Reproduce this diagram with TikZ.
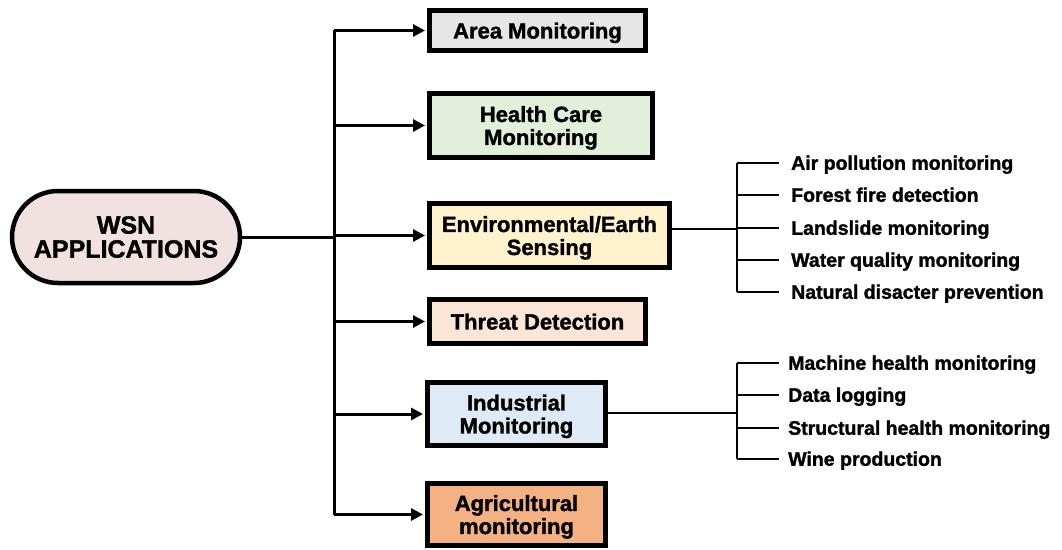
\documentclass[tikz,border=0pt]{standalone}
\usepackage{fontspec}
\setmainfont{Liberation Sans}[BoldFeatures={FakeBold=1.5}]
\usepackage{xcolor}
\usetikzlibrary{positioning, arrows.meta, shapes.misc}

\definecolor{rootfill}{HTML}{F2E1E1}
\definecolor{areafill}{HTML}{E7E6E6}
\definecolor{healthfill}{HTML}{E2EFDA}
\definecolor{envfill}{HTML}{FFF2CC}
\definecolor{threatfill}{HTML}{FBE5D6}
\definecolor{indfill}{HTML}{DEEBF7}
\definecolor{agrifill}{HTML}{F4B183}

\begin{document}
\begin{tikzpicture}[x=1pt, y=-1pt,
  appbox/.style={draw, line width=5pt, align=center, inner sep=0pt, text depth=0pt,
    font=\bfseries\fontsize{22}{23}\selectfont},
  listitem/.style={anchor=west, inner xsep=12pt, inner ysep=0pt,
    text height=13.5pt, text depth=0pt,
    font=\bfseries\fontsize{19.5}{20}\selectfont},
  link/.style={line width=2.5pt},
  arr/.style={line width=3pt, shorten >=2pt, -{Triangle[length=12pt, width=12pt]}},
]
  \useasboundingbox (0,0) rectangle (1062,549);

  \node[rounded rectangle, draw, line width=4.5pt, fill=rootfill,
    minimum width=228pt, minimum height=92pt, inner sep=0pt, align=center,
    font=\bfseries\fontsize{25}{24}\selectfont] (root) at (126,237) {WSN\\APPLICATIONS};

  \node[appbox, fill=areafill, minimum width=216pt, minimum height=40pt] (area) at (537.5,30.5) {Area Monitoring};
  \node[appbox, fill=healthfill, minimum width=223pt, minimum height=64pt] (health) at (541,125.5) {Health Care\\Monitoring};
  \node[appbox, fill=envfill, minimum width=240pt, minimum height=64pt] (env) at (549.5,235.5) {Environmental/Earth\\Sensing};
  \node[appbox, fill=threatfill, minimum width=216pt, minimum height=44pt] (threat) at (537.5,321.5) {Threat Detection};
  \node[appbox, fill=indfill, minimum width=178pt, minimum height=63pt] (ind) at (516.5,414) {Industrial\\Monitoring};
  \node[appbox, fill=agrifill, minimum width=178pt, minimum height=62pt] (agri) at (516.5,514.5) {Agricultural\\monitoring};

  % trunk
  \coordinate (trunktop) at (334,30);
  \coordinate (trunkbot) at (334,515);
  \draw[line width=3pt] (trunktop) -- (trunkbot);
  \draw[line width=3pt] (root.east) -- (root.east -| trunktop);
  \foreach \b in {area, health, env, threat, ind, agri}
    \draw[arr] (trunktop |- \b.west) -- (\b.west);

  % environmental list
  \coordinate (envbr) at (737,229);
  \foreach \txt/\y [count=\i] in {Air pollution monitoring/163, Forest fire detection/195,
      Landslide monitoring/228, Water quality monitoring/260, Natural disacter prevention/292}
    \node[listitem] (env\i) at (779,\y) {\txt};
  \draw[link] (env.east |- envbr) -- (envbr);
  \draw[link] (envbr |- env1.west) -- (envbr |- env5.west);
  \foreach \i in {1,...,5}
    \draw[link] (envbr |- env\i.west) -- (env\i.west);

  % industrial list
  \coordinate (indbr) at (737,413);
  \foreach \txt/\y [count=\i] in {Machine health monitoring/363, Data logging/395,
      Structural health monitoring/428, Wine production/459}
    \node[listitem, inner xsep=9pt] (ind\i) at (779,\y) {\txt};
  \draw[link] (ind.east |- indbr) -- (indbr);
  \draw[link] (indbr |- ind1.west) -- (indbr |- ind4.west);
  \foreach \i in {1,...,4}
    \draw[link] (indbr |- ind\i.west) -- (ind\i.west);
\end{tikzpicture}
\end{document}
